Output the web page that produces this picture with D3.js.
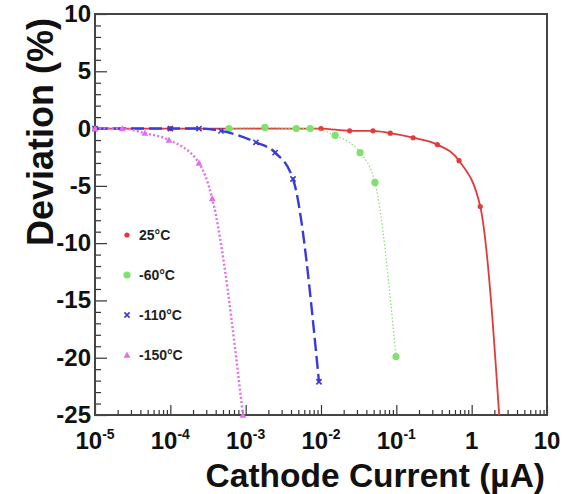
<!DOCTYPE html>
<html>
<head>
<meta charset="utf-8">
<script src="https://cdn.jsdelivr.net/npm/d3@7"></script>
<style>
  html, body { margin: 0; padding: 0; background: #fff; }
  svg { display: block; font-family: "Liberation Sans", Arial, Helvetica, sans-serif; }
</style>
</head>
<body>
<svg id="chart" width="579" height="494"></svg>
<script>
// Series: relative deviation vs cathode current at four temperatures
const seriesNames = ["25°C", "-60°C", "-110°C", "-150°C"];

const current25 = [1e-5, 1e-4, 4.7e-3, 1e-2, 0.024, 0.049, 0.083, 0.167, 0.35, 0.68, 1.3, 2.6];
const deviation25 = [0, 0, 0, 0, -0.2, -0.2, -0.4, -0.8, -1.4, -2.8, -6.8, -30];

const currentM60 = [6.0e-4, 1.8e-3, 4.7e-3, 7.2e-3, 0.0154, 0.033, 0.052, 0.099];
const deviationM60 = [0, 0.1, 0, 0, -0.6, -2.1, -4.7, -19.9];

const currentM110 = [1e-5, 1e-4, 2.4e-4, 4.7e-4, 1.37e-3, 2.46e-3, 4.25e-3, 9.4e-3];
const deviationM110 = [0, 0, 0, -0.2, -1.2, -2.1, -4.4, -22.1];

const currentM150 = [1e-5, 2.3e-5, 4.6e-5, 9.6e-5, 2.4e-4, 3.6e-4, 9.2e-4];
const deviationM150 = [0, 0, -0.4, -1.0, -3.0, -6.1, -25];

// Axis tick labels
const xTickValues = [1e-5, 1e-4, 1e-3, 1e-2, 1e-1, 1, 10];
const xTickBase = ["10", "10", "10", "10", "10", "1", "10"];
const xTickExp = ["-5", "-4", "-3", "-2", "-1", "", ""];
const yTickValues = [10, 5, 0, -5, -10, -15, -20, -25];

const xDomain = [1e-5, 10];
const yDomain = [-25, 10];

const styles = [
  { color: "#e23a3a", width: 1.8, dash: null, marker: "dot" },
  { color: "#80e070", width: 1.2, dash: "1.5,2", marker: "circle" },
  { color: "#3a3ad8", width: 2.4, dash: "13,5", marker: "cross" },
  { color: "#e070e6", width: 2.4, dash: "2,2.2", marker: "triangle" }
];

const svg = d3.select("#chart");
const frame = { left: 95, top: 14, right: 547, bottom: 415 };

const x = d3.scaleLog().domain(xDomain).range([frame.left, frame.right]);
const y = d3.scaleLinear().domain(yDomain).range([frame.bottom, frame.top]);

svg.append("rect").attr("width", 579).attr("height", 494).attr("fill", "#fff");

svg.append("defs").append("clipPath").attr("id", "plotClip")
  .append("rect")
  .attr("x", frame.left).attr("y", frame.top)
  .attr("width", frame.right - frame.left).attr("height", frame.bottom - frame.top);

// Bottom axis: log ticks pointing into the plot
const xAxis = d3.axisBottom(x)
  .tickValues(x.ticks())
  .tickSizeInner(-5).tickSizeOuter(0).tickFormat("");
const gx = svg.append("g").attr("transform", `translate(0,${frame.bottom})`).call(xAxis);
gx.selectAll(".tick line")
  .attr("y2", d => (Math.abs(Math.log10(d) - Math.round(Math.log10(d))) < 1e-9 ? -10 : -5))
  .attr("stroke", "#333").attr("stroke-width", 1.2);
gx.select(".domain").remove();

// Left axis: ticks every unit, longer every five
const yAxis = d3.axisLeft(y)
  .tickValues(d3.range(-25, 10.5, 1))
  .tickSizeInner(-6).tickSizeOuter(0).tickFormat("");
const gy = svg.append("g").attr("transform", `translate(${frame.left},0)`).call(yAxis);
gy.selectAll(".tick line")
  .attr("x2", d => (d % 5 === 0 ? 12 : 6))
  .attr("stroke", "#333").attr("stroke-width", 1.2);
gy.select(".domain").remove();

// Frame
svg.append("rect")
  .attr("x", frame.left).attr("y", frame.top)
  .attr("width", frame.right - frame.left).attr("height", frame.bottom - frame.top)
  .attr("fill", "none").attr("stroke", "#444").attr("stroke-width", 2);

// Y tick labels
svg.append("g").selectAll("text").data(yTickValues).join("text")
  .attr("x", frame.left - 4).attr("y", d => y(d) + 8)
  .attr("text-anchor", "end")
  .attr("font-size", 24).attr("font-weight", "bold").attr("fill", "#111")
  .text(d => d);

// X tick labels with exponents
const xl = svg.append("g").selectAll("text").data(xTickValues).join("text")
  .attr("x", d => x(d)).attr("y", 449)
  .attr("text-anchor", "middle")
  .attr("font-size", 24).attr("font-weight", "bold").attr("fill", "#111");
xl.append("tspan").text((d, i) => xTickBase[i]);
xl.append("tspan").attr("dy", -10).attr("font-size", 14).text((d, i) => xTickExp[i]);

// Axis titles
svg.append("text")
  .attr("x", 545).attr("y", 487)
  .attr("text-anchor", "end")
  .attr("font-size", 33.5).attr("font-weight", "bold").attr("fill", "#111")
  .text("Cathode Current (µA)");

svg.append("text")
  .attr("transform", "translate(53,18) rotate(-90)")
  .attr("text-anchor", "end")
  .attr("font-size", 36).attr("font-weight", "bold").attr("fill", "#111")
  .text("Deviation (%)");

// Curves and markers
const allSeries = [
  [current25, deviation25],
  [currentM60, deviationM60],
  [currentM110, deviationM110],
  [currentM150, deviationM150]
];

const line = d3.line()
  .x(d => x(d[0])).y(d => y(d[1]))
  .curve(d3.curveMonotoneX);

function drawMarker(g, kind, color, cx, cy) {
  if (kind === "dot") {
    g.append("circle").attr("cx", cx).attr("cy", cy).attr("r", 2.6).attr("fill", color);
  } else if (kind === "circle") {
    g.append("circle").attr("cx", cx).attr("cy", cy).attr("r", 3.6).attr("fill", color);
  } else if (kind === "cross") {
    const s = 2.6;
    g.append("path")
      .attr("d", `M${cx - s},${cy - s}L${cx + s},${cy + s}M${cx - s},${cy + s}L${cx + s},${cy - s}`)
      .attr("stroke", color).attr("stroke-width", 1.6).attr("fill", "none");
  } else if (kind === "triangle") {
    const s = 3.4;
    g.append("path")
      .attr("d", `M${cx},${cy - s}L${cx + s},${cy + s * 0.8}L${cx - s},${cy + s * 0.8}Z`)
      .attr("fill", color);
  }
}

const plot = svg.append("g");
allSeries.forEach(([xs, ys], i) => {
  const st = styles[i];
  const pts = xs.map((v, j) => [v, ys[j]]);
  plot.append("path")
    .attr("clip-path", "url(#plotClip)")
    .attr("d", line(pts))
    .attr("fill", "none")
    .attr("stroke", st.color)
    .attr("stroke-width", st.width)
    .attr("stroke-dasharray", st.dash);
  const mg = plot.append("g");
  pts.filter(p => p[1] >= yDomain[0] && p[1] <= yDomain[1])
    .forEach(p => drawMarker(mg, st.marker, st.color, x(p[0]), y(p[1])));
});

// Legend
const legend = svg.append("g");
seriesNames.forEach((name, i) => {
  const ly = 235 + i * 40;
  drawMarker(legend, styles[i].marker, styles[i].color, 127, ly);
  legend.append("text")
    .attr("x", 139).attr("y", ly + 5)
    .attr("font-size", 14).attr("font-weight", "bold").attr("fill", "#222")
    .text(name);
});
</script>
</body>
</html>
